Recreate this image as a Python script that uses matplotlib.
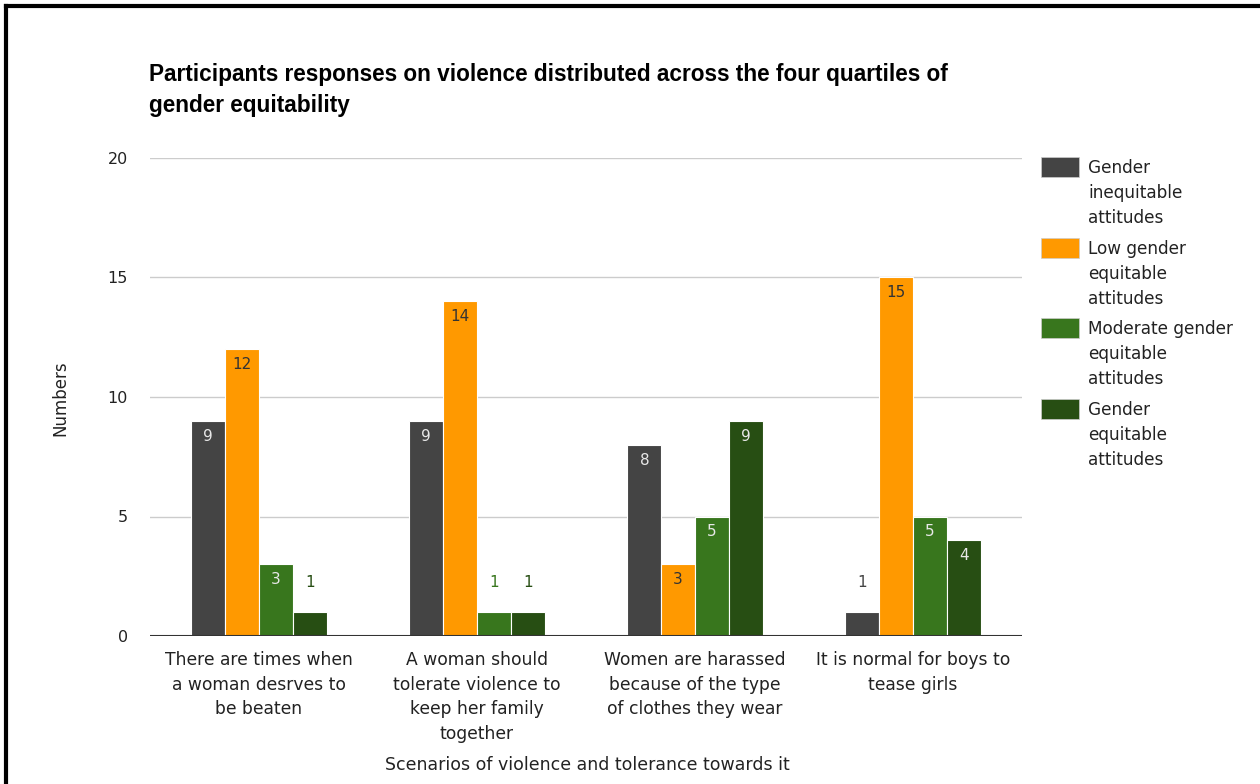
import numpy as np
import matplotlib
matplotlib.use('Agg')
import matplotlib.pyplot as plt
from matplotlib.patches import Rectangle
from matplotlib.lines import Line2D

# chart data
categories = ['There are times when\na woman desrves to\nbe beaten',
              'A woman should\ntolerate violence to\nkeep her family\ntogether',
              'Women are harassed\nbecause of the type\nof clothes they wear',
              'It is normal for boys to\ntease girls']
series_names = ['Gender\ninequitable\nattitudes',
                'Low gender\nequitable\nattitudes',
                'Moderate gender\nequitable\nattitudes',
                'Gender\nequitable\nattitudes']
inequitable = [9, 9, 8, 1]
low_equitable = [12, 14, 3, 15]
moderate_equitable = [3, 1, 5, 5]
equitable = [1, 1, 9, 4]
y_ticks = [0, 5, 10, 15, 20]

series = [inequitable, low_equitable, moderate_equitable, equitable]
colors = ['#444444', '#ff9900', '#38761d', '#274e13']
inside_colors = ['#e8e8e8', '#333333', '#e8e8e8', '#e8e8e8']

fig = plt.figure(figsize=(12.6, 7.84), dpi=100)
ax = fig.add_axes([150/1260, 1-636/784, 872/1260, 478/784])

x = np.arange(len(categories))
bar_w = 0.155
for i, vals in enumerate(series):
    pos = x + (i - 1.5) * bar_w
    bars = ax.bar(pos, vals, width=bar_w, color=colors[i], edgecolor='white',
                  linewidth=0.8, zorder=3)
    for b, v in zip(bars, vals):
        cx = b.get_x() + b.get_width() / 2
        if v >= 2:
            ax.annotate(str(v), (cx, v), xytext=(0, -11), textcoords='offset points',
                        ha='center', va='center', fontsize=11, color=inside_colors[i],
                        zorder=4)
        else:
            ax.annotate(str(v), (cx, v), xytext=(0, 21), textcoords='offset points',
                        ha='center', va='center', fontsize=11, color=colors[i],
                        zorder=4)

ax.set_xlim(-0.5, len(categories) - 0.5)
ax.set_ylim(0, 20)
ax.set_yticks(y_ticks)
ax.set_yticklabels([str(t) for t in y_ticks], fontsize=11.5, color='#222222')
ax.yaxis.grid(True, color='#cccccc', linewidth=1, zorder=0)
ax.axhline(0, color='#333333', linewidth=1.5, zorder=5)
for s in ax.spines.values():
    s.set_visible(False)
ax.tick_params(axis='both', length=0)
ax.tick_params(axis='y', pad=16)
ax.set_xticks(x)
ax.set_xticklabels(categories, fontsize=12.3, color='#222222', linespacing=1.47,
                   va='top')
ax.tick_params(axis='x', pad=11)

fig.text(587/1260, 1-765/784, 'Scenarios of violence and tolerance towards it',
         ha='center', va='center', fontsize=12.5, color='#222222')
fig.text(60/1260, 1-398/784, 'Numbers', rotation=90, ha='center', va='center',
         fontsize=12, color='#222222')

fig.text(149/1260, 1-90/784,
         'Participants responses on violence distributed across the four quartiles of\ngender equitability',
         ha='left', va='center', fontsize=16.3, fontweight='bold', linespacing=1.4,
         family='Liberation Sans')

# legend drawn by hand so the swatch sits on the first text line
for i, name in enumerate(series_names):
    top = 157 + i * 80.7
    fig.patches.append(Rectangle((1041/1260, 1-(top+20)/784), 38/1260, 20/784,
                                 transform=fig.transFigure, facecolor=colors[i],
                                 edgecolor='#cccccc', linewidth=0.5))
    fig.text(1088/1260, 1-(top+2)/784, name, ha='left', va='top',
             fontsize=12.2, color='#222222', linespacing=1.5)

# frame on top and left edges
fig.add_artist(Line2D([6/1260, 1], [1-6/784, 1-6/784], color='black', linewidth=3,
                      transform=fig.transFigure))
fig.add_artist(Line2D([6/1260, 6/1260], [0, 1-6/784], color='black', linewidth=3,
                      transform=fig.transFigure))

fig.savefig('out.png', dpi=100)
